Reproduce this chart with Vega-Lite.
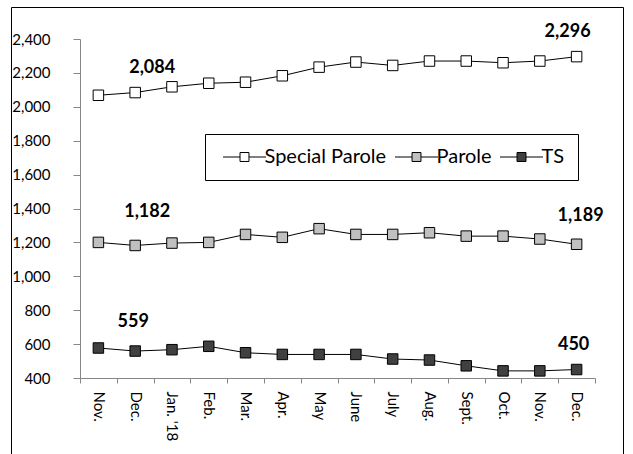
{
  "$schema": "https://vega.github.io/schema/vega-lite/v6.json",
  "autosize": {"type": "none"},
  "padding": {"left": 11, "top": 7, "right": 10, "bottom": 0},
  "width": 612,
  "height": 447,
  "background": "white",
  "config": {
    "view": {"stroke": "black", "strokeWidth": 1},
    "font": "Lato",
    "axis": {"labelFont": "Lato", "labelFontSize": 15, "labelColor": "black", "domainColor": "#868686", "tickColor": "#868686", "grid": false, "title": null}
  },
  "data": {
    "values": [
      {"i": 0, "series": "Special Parole", "value": 2068},
      {"i": 1, "series": "Special Parole", "value": 2084},
      {"i": 2, "series": "Special Parole", "value": 2118},
      {"i": 3, "series": "Special Parole", "value": 2139},
      {"i": 4, "series": "Special Parole", "value": 2145},
      {"i": 5, "series": "Special Parole", "value": 2183},
      {"i": 6, "series": "Special Parole", "value": 2234},
      {"i": 7, "series": "Special Parole", "value": 2264},
      {"i": 8, "series": "Special Parole", "value": 2244},
      {"i": 9, "series": "Special Parole", "value": 2270},
      {"i": 10, "series": "Special Parole", "value": 2270},
      {"i": 11, "series": "Special Parole", "value": 2260},
      {"i": 12, "series": "Special Parole", "value": 2270},
      {"i": 13, "series": "Special Parole", "value": 2296},
      {"i": 0, "series": "Parole", "value": 1200},
      {"i": 1, "series": "Parole", "value": 1182},
      {"i": 2, "series": "Parole", "value": 1196},
      {"i": 3, "series": "Parole", "value": 1200},
      {"i": 4, "series": "Parole", "value": 1247},
      {"i": 5, "series": "Parole", "value": 1230},
      {"i": 6, "series": "Parole", "value": 1281},
      {"i": 7, "series": "Parole", "value": 1247},
      {"i": 8, "series": "Parole", "value": 1247},
      {"i": 9, "series": "Parole", "value": 1257},
      {"i": 10, "series": "Parole", "value": 1237},
      {"i": 11, "series": "Parole", "value": 1237},
      {"i": 12, "series": "Parole", "value": 1220},
      {"i": 13, "series": "Parole", "value": 1189},
      {"i": 0, "series": "TS", "value": 577},
      {"i": 1, "series": "TS", "value": 559},
      {"i": 2, "series": "TS", "value": 567},
      {"i": 3, "series": "TS", "value": 587},
      {"i": 4, "series": "TS", "value": 549},
      {"i": 5, "series": "TS", "value": 539},
      {"i": 6, "series": "TS", "value": 539},
      {"i": 7, "series": "TS", "value": 539},
      {"i": 8, "series": "TS", "value": 512},
      {"i": 9, "series": "TS", "value": 506},
      {"i": 10, "series": "TS", "value": 472},
      {"i": 11, "series": "TS", "value": 442},
      {"i": 12, "series": "TS", "value": 442},
      {"i": 13, "series": "TS", "value": 450}
    ]
  },
  "encoding": {
    "x": {
      "field": "i", "type": "ordinal",
      "scale": {"range": [69, 584], "paddingInner": 0, "paddingOuter": 0},
      "axis": {
        "offset": -76, "labelAngle": 90, "tickBand": "extent", "tickSize": 5, "labelPadding": 8,
        "labelExpr": "[\"Nov.\",\"Dec.\",\"Jan. '18\",\"Feb.\",\"Mar.\",\"Apr.\",\"May\",\"June\",\"July\",\"Aug.\",\"Sept.\",\"Oct.\",\"Nov.\",\"Dec.\"][datum.value]"
      }
    },
    "y": {
      "field": "value", "type": "quantitative",
      "scale": {"domain": [400, 2400], "range": [371, 32], "nice": false, "zero": false},
      "axis": {"offset": -69, "values": [400, 600, 800, 1000, 1200, 1400, 1600, 1800, 2000, 2200, 2400], "format": ",.0f", "tickSize": 7, "labelPadding": 23}
    }
  },
  "layer": [
    {
      "mark": {"type": "line", "color": "black", "strokeWidth": 1},
      "encoding": {"detail": {"field": "series"}}
    },
    {
      "mark": {"type": "point", "shape": "square", "filled": true, "size": 110, "stroke": "black", "strokeWidth": 1, "opacity": 1},
      "encoding": {
        "fill": {
          "field": "series", "type": "nominal",
          "scale": {"domain": ["Special Parole", "Parole", "TS"], "range": ["#ffffff", "#c0c0c0", "#404040"]},
          "legend": {
            "title": null, "orient": "none", "legendX": 194, "legendY": 127, "direction": "horizontal",
            "strokeColor": "black", "fillColor": "white", "padding": 13, "cornerRadius": 0,
            "symbolType": "M-3.07,0H-0.64M0.64,0H3.07M-0.64,-0.64H0.64V0.64H-0.64Z",
            "symbolSize": 196, "symbolOffset": 16.5, "labelOffset": 10,
            "symbolStrokeColor": "black", "symbolStrokeWidth": 1, "symbolOpacity": 1,
            "labelFont": "Lato", "labelFontSize": 20, "labelColor": "black", "columnPadding": 3
          }
        }
      }
    },
    {
      "transform": [{"filter": "datum.series == 'Special Parole' && datum.i == 1"}],
      "mark": {"type": "text", "font": "Lato", "fontWeight": "bold", "fontSize": 18, "dx": 17, "dy": -25, "align": "center", "baseline": "middle"},
      "encoding": {"text": {"field": "value", "type": "quantitative", "format": ","}}
    },
    {
      "transform": [{"filter": "datum.series == 'Special Parole' && datum.i == 13"}],
      "mark": {"type": "text", "font": "Lato", "fontWeight": "bold", "fontSize": 18, "dx": -9, "dy": -25, "align": "center", "baseline": "middle"},
      "encoding": {"text": {"field": "value", "type": "quantitative", "format": ","}}
    },
    {
      "transform": [{"filter": "datum.series == 'Parole' && datum.i == 1"}],
      "mark": {"type": "text", "font": "Lato", "fontWeight": "bold", "fontSize": 18, "dx": 12, "dy": -33, "align": "center", "baseline": "middle"},
      "encoding": {"text": {"field": "value", "type": "quantitative", "format": ","}}
    },
    {
      "transform": [{"filter": "datum.series == 'Parole' && datum.i == 13"}],
      "mark": {"type": "text", "font": "Lato", "fontWeight": "bold", "fontSize": 18, "dx": 4, "dy": -28, "align": "center", "baseline": "middle"},
      "encoding": {"text": {"field": "value", "type": "quantitative", "format": ","}}
    },
    {
      "transform": [{"filter": "datum.series == 'TS' && datum.i == 1"}],
      "mark": {"type": "text", "font": "Lato", "fontWeight": "bold", "fontSize": 18, "dx": -2, "dy": -29, "align": "center", "baseline": "middle"},
      "encoding": {"text": {"field": "value", "type": "quantitative", "format": ","}}
    },
    {
      "transform": [{"filter": "datum.series == 'TS' && datum.i == 13"}],
      "mark": {"type": "text", "font": "Lato", "fontWeight": "bold", "fontSize": 18, "dx": -3, "dy": -25, "align": "center", "baseline": "middle"},
      "encoding": {"text": {"field": "value", "type": "quantitative", "format": ","}}
    }
  ]
}
